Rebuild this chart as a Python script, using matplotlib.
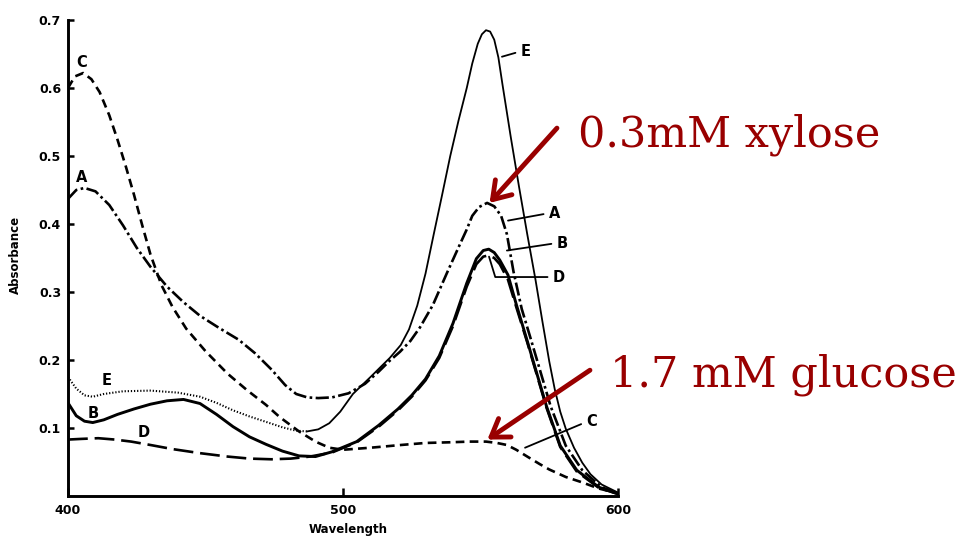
import matplotlib
matplotlib.use("Agg")
import matplotlib.pyplot as plt

# absorbance spectra (wavelength nm, absorbance)
wl_a = [400, 403, 406, 410, 415, 420, 425, 430, 436, 442, 448, 455, 462, 468, 474, 479, 483, 487,
        491, 496, 502, 508, 513, 517, 520.7, 524.5, 528, 532.7, 537.8, 542.5, 545, 547, 549.5,
        552.4, 555, 557.5, 559.6, 562, 565, 568.5, 572, 575.5, 581, 587, 594, 600]
abs_a = [0.437, 0.450, 0.453, 0.448, 0.428, 0.398, 0.365, 0.337, 0.308, 0.285, 0.265, 0.247, 0.230,
         0.210, 0.186, 0.163, 0.150, 0.145, 0.144, 0.145, 0.151, 0.165, 0.183, 0.199, 0.212, 0.228,
         0.248, 0.281, 0.328, 0.370, 0.392, 0.412, 0.425, 0.431, 0.426, 0.412, 0.385, 0.330, 0.275,
         0.228, 0.180, 0.132, 0.074, 0.038, 0.013, 0.004]

wl_b = [400, 403, 406, 409, 413, 418, 424, 430, 436, 442, 448, 454, 460, 466, 472, 478, 484, 490,
        496, 505, 513, 520, 525, 530, 535, 540, 545, 548.5, 551, 553, 555, 557, 560, 563, 567,
        570.5, 574, 579, 585, 593, 600]
abs_b = [0.137, 0.118, 0.110, 0.108, 0.112, 0.120, 0.128, 0.135, 0.140, 0.142, 0.136, 0.120, 0.102,
         0.087, 0.076, 0.066, 0.059, 0.058, 0.065, 0.080, 0.104, 0.128, 0.148, 0.172, 0.206, 0.254,
         0.313, 0.349, 0.361, 0.363, 0.358, 0.347, 0.325, 0.282, 0.228, 0.180, 0.132, 0.074, 0.038,
         0.013, 0.003]

wl_c = [400, 402.5, 405.5, 408.5, 411.5, 415, 418, 421, 424, 427, 430, 434, 438, 443, 450, 458,
        465, 472, 477, 484, 490, 495, 500, 510, 521, 530, 539, 546, 552, 556, 559.6, 563, 567,
        571.5, 575, 581, 587, 593, 600]
abs_c = [0.600, 0.617, 0.622, 0.613, 0.594, 0.560, 0.524, 0.485, 0.443, 0.398, 0.355, 0.310, 0.278,
         0.246, 0.213, 0.180, 0.156, 0.134, 0.116, 0.095, 0.080, 0.071, 0.068, 0.071, 0.075, 0.078,
         0.079, 0.080, 0.080, 0.078, 0.075, 0.068, 0.058, 0.047, 0.039, 0.028, 0.020, 0.011, 0.004]

wl_d = [400, 405, 411, 417, 423, 430, 438, 448, 458, 466, 474, 481, 488, 496, 505, 513, 520, 525,
        530, 535, 540, 545, 548.5, 551, 553, 555, 557, 560, 563, 567, 570.5, 574, 579, 585, 593, 600]
abs_d = [0.083, 0.084, 0.085, 0.083, 0.080, 0.075, 0.069, 0.063, 0.058, 0.055, 0.054, 0.055, 0.058,
         0.064, 0.079, 0.102, 0.126, 0.146, 0.170, 0.203, 0.250, 0.308, 0.341, 0.352, 0.354, 0.350,
         0.341, 0.318, 0.278, 0.226, 0.178, 0.130, 0.072, 0.036, 0.012, 0.003]

wl_e = [400, 403, 406, 409, 413, 420, 430, 440, 448, 454, 460, 466, 472, 478, 483, 487, 491, 495,
        499, 503.6, 510, 517, 521, 524, 527, 530, 533, 536, 539, 542, 545, 547, 549, 550.5,
        552, 553.5, 555, 556.5, 558, 561, 564, 567, 570, 572.5, 575, 577, 579, 581, 584, 587, 590,
        594, 600]
abs_e = [0.175, 0.158, 0.148, 0.146, 0.150, 0.154, 0.155, 0.152, 0.146, 0.137, 0.126, 0.117, 0.109,
         0.101, 0.096, 0.095, 0.098, 0.107, 0.124, 0.150, 0.175, 0.203, 0.222, 0.245, 0.280, 0.327,
         0.385, 0.442, 0.500, 0.552, 0.600, 0.636, 0.665, 0.679, 0.685, 0.683, 0.671, 0.645, 0.605,
         0.528, 0.455, 0.385, 0.318, 0.257, 0.198, 0.157, 0.124, 0.099, 0.071, 0.049, 0.032, 0.017,
         0.005]
e_dotted_until = 487  # the E trace is dotted up to its trough, thin solid after

red = "#990000"

fig = plt.figure(figsize=(9.71, 5.48), dpi=100)
ax = fig.add_axes([68 / 971, 1 - 496 / 548, 550 / 971, 476 / 548])

lw = 1.9
ax.plot(wl_a, abs_a, color="black", lw=lw, dashes=(5.0, 1.3, 1.0, 1.3))
ax.plot(wl_b, abs_b, color="black", lw=2.1)
ax.plot(wl_c, abs_c, color="black", lw=lw, dashes=(3.3, 2.0))
ax.plot(wl_d, abs_d, color="black", lw=lw, dashes=(7.5, 2.6))
k = wl_e.index(e_dotted_until) + 1
ax.plot(wl_e[:k], abs_e[:k], color="black", lw=1.5, dashes=(0.6, 0.9))
ax.plot(wl_e[k - 1:], abs_e[k - 1:], color="black", lw=1.3)

ax.set_xlim(400, 600)
ax.set_ylim(0, 0.7)
ax.set_xticks([400, 500, 600])
ax.set_yticks([0.1, 0.2, 0.3, 0.4, 0.5, 0.6, 0.7])
ax.set_yticklabels(["0.1", "0.2", "0.3", "0.4", "0.5", "0.6", "0.7"])
for s in ["top", "right"]:
    ax.spines[s].set_visible(False)
for s in ["left", "bottom"]:
    ax.spines[s].set_linewidth(2.1)
ax.tick_params(axis="y", direction="in", length=4, width=1.8, pad=5, labelsize=9)
ax.tick_params(axis="x", direction="in", length=6, width=1.8, pad=6, labelsize=9)
for t in ax.get_xticklabels() + ax.get_yticklabels():
    t.set_fontweight("bold")

ax.set_ylabel("Absorbance", fontsize=8.5, fontweight="bold")
ax.yaxis.set_label_coords(-0.084, 0.506)
ax.set_xlabel("Wavelength", fontsize=8.5, fontweight="bold")
ax.xaxis.set_label_coords(0.509, -0.056)

# curve letters
lab = dict(fontsize=10.5, fontweight="bold", ha="center", va="center")
ax.text(405.1, 0.638, "C", **lab)
ax.text(405.1, 0.468, "A", **lab)
ax.text(414.2, 0.170, "E", **lab)
ax.text(409.1, 0.122, "B", **lab)
ax.text(427.6, 0.094, "D", **lab)

lead = dict(arrowstyle="-", color="black", lw=1.3, shrinkA=2, shrinkB=0, relpos=(0, 0.5))
ax.annotate("E", xy=(557.8, 0.646), xytext=(566.5, 0.654), arrowprops=lead, **lab)
ax.annotate("A", xy=(560.0, 0.405), xytext=(577.0, 0.416), arrowprops=lead, **lab)
ax.annotate("B", xy=(559.6, 0.361), xytext=(579.8, 0.372), arrowprops=lead, **lab)
ax.annotate("D", xy=(553.1, 0.352), xytext=(578.6, 0.322),
            arrowprops=dict(lead, connectionstyle="angle,angleA=0,angleB=107,rad=0"), **lab)
ax.annotate("C", xy=(566.2, 0.071), xytext=(590.5, 0.109), arrowprops=lead, **lab)

# red call-outs
arrow = dict(arrowstyle="->,head_length=0.6,head_width=0.4", color=red, lw=3.5,
             shrinkA=0, shrinkB=0, mutation_scale=20)
ax.annotate("", xy=(553.3, 0.431), xytext=(577.8, 0.541), arrowprops=arrow, annotation_clip=False)
ax.annotate("", xy=(552.5, 0.083), xytext=(589.8, 0.185), arrowprops=arrow, annotation_clip=False)
fig.text(578 / 971, 1 - 147 / 548, "0.3mM xylose", fontsize=31, color=red,
         family="DejaVu Serif", va="baseline", ha="left")
fig.text(610 / 971, 1 - 387 / 548, "1.7 mM glucose", fontsize=31, color=red,
         family="DejaVu Serif", va="baseline", ha="left")

fig.savefig("out.png", dpi=100)
